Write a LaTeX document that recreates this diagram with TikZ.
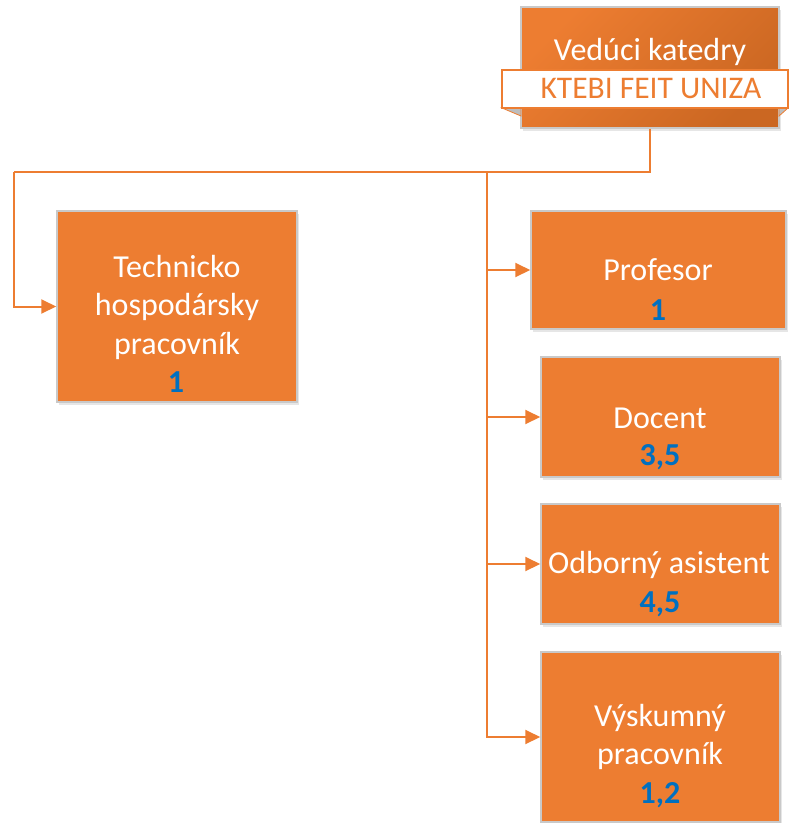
\documentclass[tikz,border=0pt]{standalone}
\usepackage{fontspec}
\setmainfont{Carlito}
\usetikzlibrary{arrows.meta, shadows}
\definecolor{boxorange}{HTML}{ED7D31}
\definecolor{headdark}{HTML}{CB6722}
\definecolor{numblue}{HTML}{0070C0}
\definecolor{boxedge}{HTML}{C9C9C9}
\definecolor{foldgray}{HTML}{BDBDBD}

\begin{document}
\begin{tikzpicture}[x=1pt, y=-1pt,
            posbox/.style={rectangle, draw=boxedge, line width=1.5pt, fill=boxorange, drop shadow={opacity=0.2, shadow xshift=2pt, shadow yshift=-3pt}},
            headbox/.style={rectangle, draw=boxedge, line width=1.5pt, top color=boxorange, bottom color=headdark, shading angle=45, drop shadow={opacity=0.2, shadow xshift=2pt, shadow yshift=-3pt}, minimum width=258pt, minimum height=121pt},
            ribbon/.style={rectangle, draw=boxorange, line width=1.5pt, fill=white, minimum width=286pt, minimum height=38pt},
            roletext/.style={font=\fontsize{32}{38.5}\selectfont, text=white, align=center, inner sep=0pt},
            numtext/.style={font=\fontsize{32}{38.5}\selectfont\bfseries, text=numblue, inner sep=0pt},
            arrowline/.style={draw=boxorange, line width=2pt, -{Triangle[length=15pt, width=14pt]}},
            link/.style={draw=boxorange, line width=2pt}
        ]
            \useasboundingbox (0,0) rectangle (789,823);

% Head of department
            \node[headbox] (head) at (650,67.5) {};
            \node[roletext] (headT) at (650,52) {Vedúci katedry};
            \filldraw[fill=foldgray, draw=boxorange, line width=0.8pt] (502,108) -- (521,108) -- (521,116) -- cycle;
            \filldraw[fill=foldgray, draw=boxorange, line width=0.8pt] (779,108) -- (788,108) -- (779,116) -- cycle;
            \node[ribbon] (rib) at (645,89) {};
            \node[font=\fontsize{31.5}{36}\selectfont, text=boxorange, inner sep=0pt] (ribT) at (651,89) {KTEBI FEIT UNIZA};

% Technical staff
            \node[posbox, minimum width=240pt, minimum height=191pt] (thp) at (177,306.5) {};
            \node[roletext] (thpT) at (177,307) {Technicko\\hospodársky\\pracovník};
            \node[numtext] (thpN) at (176,382) {1};

% Academic staff
            \node[posbox, minimum width=255pt, minimum height=118pt] (prof) at (658.5,270) {};
            \node[roletext] (profT) at (658,270) {Profesor};
            \node[numtext] (profN) at (658,310) {1};

            \node[posbox, minimum width=239pt, minimum height=120pt] (doc) at (660.5,417) {};
            \node[roletext] (docT) at (660,418) {Docent};
            \node[numtext] (docN) at (660,457) {3,5};

            \node[posbox, minimum width=239pt, minimum height=120pt] (oa) at (660.5,564) {};
            \node[roletext] (oaT) at (659,565) {Odborný asistent};
            \node[numtext] (oaN) at (660,604) {4,5};

            \node[posbox, minimum width=239pt, minimum height=170pt] (vp) at (660.5,737) {};
            \node[roletext] (vpT) at (660,737) {Výskumný\\pracovník};
            \node[numtext] (vpN) at (660,795) {1,2};

% Connectors
            \coordinate (leftBar) at (14,172);
            \coordinate (trunk) at (487,172);
            \draw[link] (head.south) |- (leftBar);
            \draw[arrowline] (leftBar) |- (thp.west);
            \draw[arrowline] (trunk) |- (prof.west);
            \draw[arrowline] (trunk) |- (doc.west);
            \draw[arrowline] (trunk) |- (oa.west);
            \draw[arrowline] (trunk) |- (vp.west);

        \end{tikzpicture}
\end{document}
